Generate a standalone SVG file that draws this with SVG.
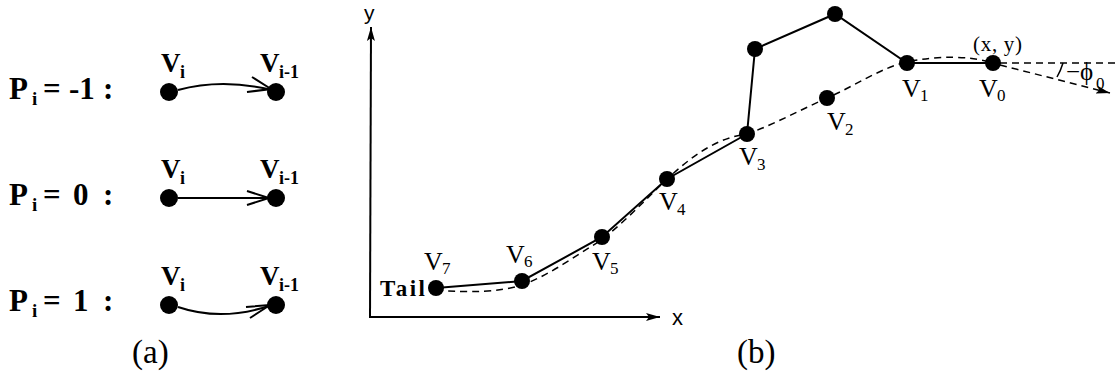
<svg xmlns="http://www.w3.org/2000/svg" width="1116" height="375" viewBox="0 0 1116 375">
<style>
.bd{font-family:"Liberation Serif",serif;font-weight:bold;fill:#000}
.rg{font-family:"Liberation Serif",serif;fill:#000}
.sn{font-family:"Liberation Sans",sans-serif;fill:#000}
.dot{fill:#000}
.ln{fill:none;stroke:#000;stroke-width:2}
.dsh{fill:none;stroke:#000;stroke-width:1.5;stroke-dasharray:7 5}
</style>
<defs>
<marker id="ah" viewBox="0 0 14 8" refX="14" refY="4" markerWidth="14" markerHeight="8" markerUnits="userSpaceOnUse" orient="auto">
<path d="M0,0 L14,4 L0,8 L3,4 Z" fill="#000"/>
</marker>
</defs>
<rect width="1116" height="375" fill="#fff"/>

<!-- Panel (a) labels -->
<g id="row1-label">
<text class="bd" x="9" y="99" font-size="31">P</text><text class="bd" x="32" y="105" font-size="19">i</text>
<text class="bd" x="43" y="99" font-size="31">=</text><text class="bd" x="69" y="99" font-size="31">-1</text>
<text class="bd" x="103" y="99" font-size="31">:</text>
</g>
<g id="row2-label">
<text class="bd" x="9" y="205" font-size="31">P</text><text class="bd" x="32" y="211" font-size="19">i</text>
<text class="bd" x="43" y="205" font-size="31">=</text><text class="bd" x="73" y="205" font-size="31">0</text>
<text class="bd" x="103" y="205" font-size="31">:</text>
</g>
<g id="row3-label">
<text class="bd" x="9" y="311" font-size="31">P</text><text class="bd" x="32" y="317" font-size="19">i</text>
<text class="bd" x="43" y="311" font-size="31">=</text><text class="bd" x="73" y="311" font-size="31">1</text>
<text class="bd" x="103" y="311" font-size="31">:</text>
</g>

<g id="a1-vi"><circle class="dot" cx="169" cy="92" r="9"/><text class="bd" x="161" y="72" font-size="27">V</text><text class="bd" x="180" y="78" font-size="18">i</text></g>
<g id="a1-vi1"><circle class="dot" cx="276" cy="92" r="9"/><text class="bd" x="260" y="72" font-size="27">V</text><text class="bd" x="279" y="78" font-size="18">i-1</text></g>
<g id="a2-vi"><circle class="dot" cx="169" cy="198" r="9"/><text class="bd" x="161" y="178" font-size="27">V</text><text class="bd" x="180" y="184" font-size="18">i</text></g>
<g id="a2-vi1"><circle class="dot" cx="276" cy="198" r="9"/><text class="bd" x="260" y="178" font-size="27">V</text><text class="bd" x="279" y="184" font-size="18">i-1</text></g>
<g id="a3-vi"><circle class="dot" cx="169" cy="305" r="9"/><text class="bd" x="161" y="285" font-size="27">V</text><text class="bd" x="180" y="291" font-size="18">i</text></g>
<g id="a3-vi1"><circle class="dot" cx="276" cy="305" r="9"/><text class="bd" x="260" y="285" font-size="27">V</text><text class="bd" x="279" y="291" font-size="18">i-1</text></g>

<text class="rg" x="132" y="363" font-size="33">(a)</text>
<text class="rg" x="737" y="363" font-size="33">(b)</text>

<!-- Panel (b) axes -->
<g id="axes">
<line class="ln" x1="370" y1="318" x2="371" y2="27" stroke-width="1.6" marker-end="url(#ah)"/>
<line class="ln" x1="369" y1="317" x2="660" y2="317" stroke-width="1.6" marker-end="url(#ah)"/>
<text class="sn" x="364" y="20" font-size="21">y</text>
<text class="sn" x="672" y="325" font-size="22">x</text>
</g>

<!-- Connectors -->
<g id="connectors">
<path class="ln" d="M178,90 Q222,78 272,90"/>
<polyline class="ln" points="252,77 271,89 247,92"/>
<line class="ln" x1="178" y1="198" x2="270" y2="198"/>
<polyline class="ln" points="247,191 269,198 247,205"/>
<path class="ln" d="M178,307 Q222,322 272,305"/>
<polyline class="ln" points="246,307 270,305 250,318"/>

<polyline class="ln" points="436,288 522,281 602,237 667,179 747,134 755,49 835,14 907,63 993,63"/>
<path class="dsh" d="M436,290 C470,293 500,292 522,285 C550,275 575,256 600,241 C625,222 645,200 667,179 C690,158 715,138 747,134 C775,124 800,110 827,98 C855,86 880,68 907,62 C940,55 970,56 993,63"/>
<line class="dsh" x1="1000" y1="63" x2="1116" y2="63"/>
<line class="dsh" x1="1000" y1="65" x2="1110" y2="93" marker-end="url(#ah)"/>
<path fill="none" stroke="#000" stroke-width="1.5" d="M1063,63 A66,66 0 0 1 1057,77"/>
</g>

<!-- Panel (b) nodes -->
<g id="v7"><circle class="dot" cx="436" cy="288" r="8"/><text class="rg" x="424" y="270" font-size="26">V</text><text class="rg" x="442" y="274" font-size="17">7</text></g>
<g id="tail"><text class="bd" x="380" y="296" font-size="23" textLength="45">Tail</text></g>
<g id="v6"><circle class="dot" cx="522" cy="281" r="8"/><text class="rg" x="506" y="263" font-size="26">V</text><text class="rg" x="524" y="267" font-size="17">6</text></g>
<g id="v5"><circle class="dot" cx="602" cy="237" r="8"/><text class="rg" x="592" y="270" font-size="26">V</text><text class="rg" x="610" y="274" font-size="17">5</text></g>
<g id="v4"><circle class="dot" cx="667" cy="179" r="8"/><text class="rg" x="659" y="210" font-size="26">V</text><text class="rg" x="677" y="215" font-size="17">4</text></g>
<g id="v3"><circle class="dot" cx="747" cy="134" r="8"/><text class="rg" x="739" y="165" font-size="26">V</text><text class="rg" x="757" y="170" font-size="17">3</text></g>
<g id="n-a"><circle class="dot" cx="755" cy="49" r="8"/></g>
<g id="n-b"><circle class="dot" cx="835" cy="14" r="8"/></g>
<g id="v2"><circle class="dot" cx="827" cy="98" r="8"/><text class="rg" x="827" y="130" font-size="26">V</text><text class="rg" x="845" y="135" font-size="17">2</text></g>
<g id="v1"><circle class="dot" cx="907" cy="63" r="8"/><text class="rg" x="902" y="97" font-size="26">V</text><text class="rg" x="920" y="101" font-size="17">1</text></g>
<g id="v0"><circle class="dot" cx="993" cy="63" r="8"/><text class="rg" x="979" y="97" font-size="26">V</text><text class="rg" x="997" y="101" font-size="17">0</text>
<text class="rg" x="973" y="51" font-size="21" textLength="49">(x, y)</text></g>
<g id="phi"><text class="rg" x="1066" y="80" font-size="25">−ϕ</text><text class="rg" x="1096" y="89" font-size="17">0</text></g>
</svg>
